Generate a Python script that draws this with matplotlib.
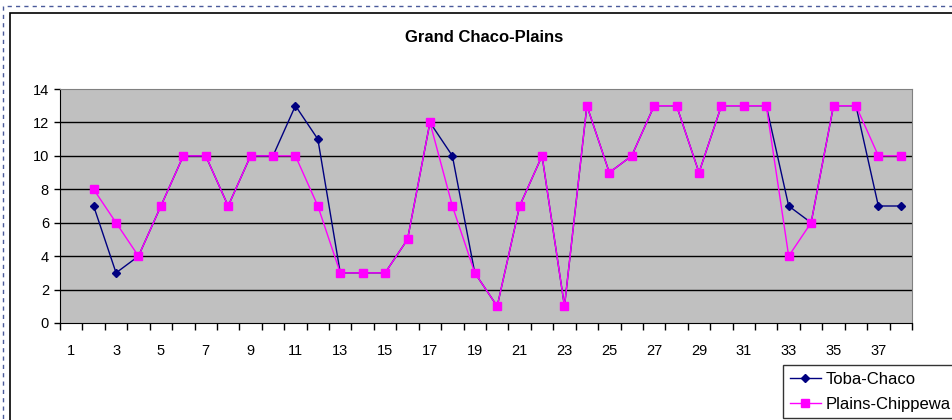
import matplotlib.pyplot as plt
from matplotlib.patches import Rectangle

plt.rcParams['font.family'] = ['Liberation Sans', 'DejaVu Sans']

# Data (category 1 has no value)
categories = list(range(1, 39))
x_vals = list(range(2, 39))
toba_chaco = [7, 3, 4, 7, 10, 10, 7, 10, 10, 13, 11, 3, 3, 3, 5, 12, 10, 3, 1,
              7, 10, 1, 13, 9, 10, 13, 13, 9, 13, 13, 13, 7, 6, 13, 13, 7, 7]
plains_chippewa = [8, 6, 4, 7, 10, 10, 7, 10, 10, 10, 7, 3, 3, 3, 5, 12, 7, 3, 1,
                   7, 10, 1, 13, 9, 10, 13, 13, 9, 13, 13, 13, 4, 6, 13, 13, 10, 10]
y_ticks = list(range(0, 15, 2))
x_labels = [c for c in categories if c % 2 == 1]

W, H = 952, 420
fig = plt.figure(figsize=(W / 100, H / 100), dpi=100)

# outer dashed selection frame and chart area border
fig.patches.append(Rectangle((3 / W, -0.1), 1.1, 1 - 6 / H + 0.1,
                             transform=fig.transFigure, fill=False,
                             edgecolor='#4a5a9a', lw=1, ls=(0, (3, 3))))
fig.patches.append(Rectangle((10 / W, -0.1), 1.1, 1 - 13 / H + 0.1,
                             transform=fig.transFigure, fill=False,
                             edgecolor='black', lw=1.2))

ax = fig.add_axes([60 / W, 1 - 323 / H, (912 - 60) / W, (323 - 89) / H])
ax.set_facecolor('#c0c0c0')

ax.hlines(y_ticks[1:-1], 0.5, 38.5, colors='black', lw=1, zorder=1)

ax.plot(x_vals, toba_chaco, color='#000080', marker='D', ms=4.5, lw=1,
        label='Toba-Chaco', zorder=3)
ax.plot(x_vals, plains_chippewa, color='#ff00ff', marker='s', ms=6, lw=1,
        label='Plains-Chippewa', zorder=4)

ax.set_xlim(0.5, 38.5)
ax.set_ylim(0, 14)
ax.set_yticks(y_ticks)
ax.set_xticks(x_labels)
ax.set_xticks([c + 0.5 for c in range(0, 39)], minor=True)
ax.tick_params(axis='x', which='major', length=0, pad=15, labelsize=10.5)
ax.tick_params(axis='x', which='minor', length=5, direction='out', width=1)
ax.tick_params(axis='y', length=4, direction='out', width=1, labelsize=10.5, pad=4)

for s in ['top', 'right']:
    ax.spines[s].set_color('#808080')
for s in ['left', 'bottom']:
    ax.spines[s].set_color('black')

fig.text(484 / W, 1 - 38 / H, 'Grand Chaco-Plains', ha='center', va='center',
         fontsize=12, fontweight='bold')

leg = fig.legend(loc='upper left', bbox_to_anchor=(783 / W, 1 - 365 / H),
                 frameon=True, fancybox=False, edgecolor='black',
                 fontsize=12, labelspacing=0.6, handlelength=1.85,
                 handletextpad=0.3, borderaxespad=0, borderpad=0.4)
leg.get_frame().set_linewidth(1)

fig.savefig('out.png', dpi=100)
